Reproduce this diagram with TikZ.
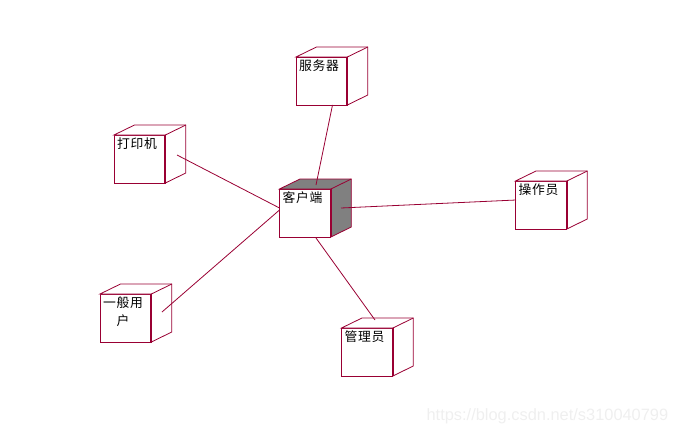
\documentclass[tikz,border=0pt]{standalone}
\usepackage{fontspec}
\setmainfont{Liberation Sans}
\newfontfamily\cjk[LetterSpace=6]{Noto Sans CJK SC}
\definecolor{rosered}{HTML}{990033}
\definecolor{rosegrey}{HTML}{808080}
\definecolor{markgrey}{HTML}{EFEFEF}
\tikzset{
  face/.style={draw=rosered,fill=white,line width=0.7pt,anchor=north west,inner sep=0pt,outer sep=0pt,
               minimum width=38.5pt,minimum height=36pt},
  cubetext/.style={anchor=north,inner sep=0pt,xshift=-2pt,yshift=-1.5pt,align=center,
               font=\fontsize{9.6pt}{13.5pt}\cjk},
  edge/.style={draw=rosered,line width=0.6pt},
  heavy/.style={draw=rosered,line width=1.3pt},
  link/.style={draw=rosered,line width=0.6pt}
}
\begin{document}
\begin{tikzpicture}[x=0.75pt,y=-0.75pt]
   % one cube: name, left, top, text, colour of the two far faces
   \def\cube#1#2#3#4#5{
     \node[face,label={[cubetext,name=#1text]north:#4}] (#1) at (#2,#3) {};
     \filldraw[edge,fill=#5] (#1.north west) -- ++(20.5,-10) -- ++(51.3,0) -- ++(0,48) -- (#1.south east)
        -- (#1.north east) -- cycle;
     \draw[edge] (#1.north east) -- ++(20.5,-10);
     \draw[heavy] (#1.north east) -- (#1.south east);
   }
   \useasboundingbox (0,0) rectangle (677,435);
   \cube{server}{296}{57}{服务器}{white}
   \cube{printer}{114}{135}{打印机}{white}
   \cube{client}{279.5}{189}{客户端}{rosegrey}
   \cube{operator}{515.5}{181}{操作员}{white}
   \cube{user}{100}{294}{一般用\\户}{white}
   \cube{manager}{341.5}{328}{管理员}{white}
   % free ends of the connectors
   \coordinate (serverend) at (332.5,105);
   \coordinate (printerend) at (177,155);
   \coordinate (userend) at (162,312);
   \coordinate (managerend) at (375,320);
   \coordinate (operatorend) at (516,200);
   \coordinate (clientN) at (316,185);
   \coordinate (clientW) at (279.5,208);
   \coordinate (clientSW) at (279.5,210);
   \coordinate (clientS) at (316,238);
   \coordinate (clientE) at (341,208);
   \draw[link] (serverend) -- (clientN);
   \draw[link] (printerend) -- (clientW);
   \draw[link] (userend) -- (clientSW);
   \draw[link] (managerend) -- (clientS);
   \draw[link] (operatorend) -- (clientE);
   \node[text=markgrey,font=\fontsize{12.3pt}{14pt}\selectfont,anchor=east,inner sep=0pt] (watermark) at (668.5,416.5)
      {https://blog.csdn.net/s310040799};
\end{tikzpicture}
\end{document}
